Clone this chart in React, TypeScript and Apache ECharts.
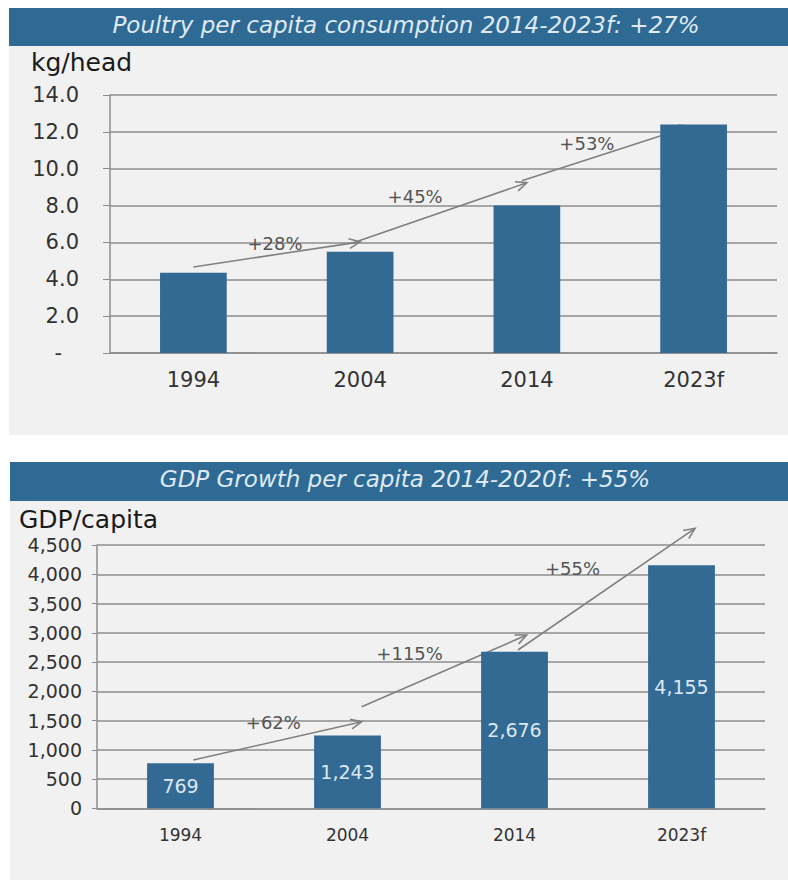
import React, { useEffect, useRef } from "react";
import * as echarts from "echarts";

// ---- Data ----
const categories = ["1994", "2004", "2014", "2023f"];
const poultryValues = [4.35, 5.5, 8.0, 12.4];
const gdpValues = [769, 1243, 2676, 4155];

const poultryTitle = "Poultry per capita consumption 2014-2023f: +27%";
const gdpTitle = "GDP Growth per capita 2014-2020f: +55%";
const poultryUnit = "kg/head";
const gdpUnit = "GDP/capita";

// growth arrows, in axis units (x: 0..4 across the categories, y: axis value)
const poultryArrowFrom = [[0.5, 4.67], [1.45, 5.95], [2.47, 9.35]];
const poultryArrowTo = [[1.5, 6.03], [2.5, 9.24], [3.48, 12.3]];
const poultryGrowthText = ["+28%", "+45%", "+53%"];
const poultryGrowthAt = [[0.99, 5.95], [1.83, 8.48], [2.86, 11.38]];

const gdpArrowFrom = [[0.577, 825], [1.585, 1736], [2.521, 2705]];
const gdpArrowTo = [[1.585, 1480], [2.573, 2961], [3.581, 4785]];
const gdpGrowthText = ["+62%", "+115%", "+55%"];
const gdpGrowthAt = [[1.056, 1463], [1.872, 2649], [2.847, 4101]];

const FONT = "DejaVu Sans";
const BAR = "#336a93";
const GRIDC = "#8c8c8c";
const TXT = "#333333";

function arrowSeries(from: number[][], to: number[][], xi: number, yi: number) {
  return {
    type: "custom",
    xAxisIndex: xi,
    yAxisIndex: yi,
    z: 1,
    clip: false,
    silent: true,
    data: from.map((f, i) => [f[0], f[1], to[i][0], to[i][1]]),
    renderItem: (params: any, api: any) => {
      const p1 = api.coord([api.value(0), api.value(1)]);
      const p2 = api.coord([api.value(2), api.value(3)]);
      const a = Math.atan2(p2[1] - p1[1], p2[0] - p1[0]);
      const L = 12;
      const s = 0.42;
      const w1 = [p2[0] - L * Math.cos(a - s), p2[1] - L * Math.sin(a - s)];
      const w2 = [p2[0] - L * Math.cos(a + s), p2[1] - L * Math.sin(a + s)];
      const st = { stroke: "#808080", lineWidth: 1.6, fill: null };
      return {
        type: "group",
        children: [
          { type: "line", shape: { x1: p1[0], y1: p1[1], x2: p2[0], y2: p2[1] }, style: st },
          { type: "polyline", shape: { points: [w1, p2, w2] }, style: st },
        ],
      };
    },
  };
}

function growthLabelSeries(at: number[][], texts: string[], xi: number, yi: number) {
  return {
    type: "custom",
    xAxisIndex: xi,
    yAxisIndex: yi,
    z: 4,
    clip: false,
    silent: true,
    data: at.map((p) => [p[0], p[1]]),
    renderItem: (params: any, api: any) => {
      const p = api.coord([api.value(0), api.value(1)]);
      return {
        type: "text",
        x: p[0],
        y: p[1],
        style: {
          text: texts[params.dataIndex],
          fill: "#555555",
          font: `18px "${FONT}"`,
          align: "center",
          verticalAlign: "middle",
          textAlign: "center",
          textVerticalAlign: "middle",
        },
      };
    },
  };
}

function textEl(text: string, x: number, y: number, size: number, color: string, align: string, italic = false) {
  return {
    type: "text",
    x,
    y,
    z: 5,
    style: {
      text,
      fill: color,
      font: `${italic ? "italic " : ""}${size}px "${FONT}"`,
      align,
      verticalAlign: "middle",
      textAlign: align,
      textVerticalAlign: "middle",
    },
  };
}

export default function App() {
  const ref = useRef<HTMLDivElement>(null);
  useEffect(() => {
    if (!ref.current) return;
    const chart = echarts.init(ref.current, null, { renderer: "svg" });
    const option: any = {
      animation: false,
      backgroundColor: "#ffffff",
      textStyle: { fontFamily: FONT },
      graphic: [
        { type: "rect", z: -10, shape: { x: 9, y: 8, width: 779, height: 427 }, style: { fill: "#f1f1f1" } },
        { type: "rect", z: -9, shape: { x: 9, y: 8, width: 779, height: 38 }, style: { fill: "#2f6a94" } },
        { type: "rect", z: -10, shape: { x: 10, y: 462, width: 778, height: 418 }, style: { fill: "#f1f1f1" } },
        { type: "rect", z: -9, shape: { x: 10, y: 462, width: 778, height: 39 }, style: { fill: "#2f6a94" } },
        textEl(poultryTitle, 406, 25, 23, "#dfeaf4", "center", true),
        textEl(gdpTitle, 405, 479, 23, "#dfeaf4", "center", true),
        textEl(poultryUnit, 31, 62, 25, "#1a1a1a", "left"),
        textEl(gdpUnit, 19, 519, 25, "#1a1a1a", "left"),
      ],
      grid: [
        { left: 110, right: 11, top: 95, height: 258, containLabel: false },
        { left: 97, right: 23, top: 545, height: 263.3, containLabel: false },
      ],
      xAxis: [
        {
          type: "category",
          gridIndex: 0,
          data: categories,
          axisLine: { lineStyle: { color: GRIDC, width: 1.5 } },
          axisTick: { length: 5, lineStyle: { color: GRIDC } },
          axisLabel: { color: TXT, fontSize: 21, margin: 16, fontFamily: FONT },
        },
        { type: "value", gridIndex: 0, min: 0, max: 4, show: false },
        {
          type: "category",
          gridIndex: 1,
          data: categories,
          axisLine: { lineStyle: { color: GRIDC, width: 1.5 } },
          axisTick: { length: 5, lineStyle: { color: GRIDC } },
          axisLabel: { color: TXT, fontSize: 17, margin: 18, fontFamily: FONT },
        },
        { type: "value", gridIndex: 1, min: 0, max: 4, show: false },
      ],
      yAxis: [
        {
          type: "value",
          gridIndex: 0,
          min: 0,
          max: 14,
          interval: 2,
          axisLine: { show: true, lineStyle: { color: GRIDC, width: 1.5 } },
          axisTick: { show: true, length: 7, lineStyle: { color: GRIDC } },
          splitLine: { lineStyle: { color: GRIDC, width: 1.5 } },
          axisLabel: {
            color: TXT,
            fontSize: 21,
            margin: 31,
            fontFamily: FONT,
            formatter: (v: number) => (v === 0 ? "{dash|-}" : v.toFixed(1)),
            rich: { dash: { color: TXT, fontSize: 21, fontFamily: FONT, padding: [0, 17, 0, 0] } },
          },
        },
        {
          type: "value",
          gridIndex: 1,
          min: 0,
          max: 4500,
          interval: 500,
          axisLine: { show: true, lineStyle: { color: GRIDC, width: 1.5 } },
          axisTick: { show: true, length: 5, lineStyle: { color: GRIDC } },
          splitLine: { lineStyle: { color: GRIDC, width: 1.5 } },
          axisLabel: {
            color: TXT,
            fontSize: 19,
            margin: 15,
            fontFamily: FONT,
            formatter: (v: number) => v.toLocaleString("en-US"),
          },
        },
      ],
      series: [
        arrowSeries(poultryArrowFrom, poultryArrowTo, 1, 0),
        {
          type: "bar",
          xAxisIndex: 0,
          yAxisIndex: 0,
          z: 3,
          barWidth: "40%",
          data: poultryValues,
          itemStyle: { color: BAR },
        },
        growthLabelSeries(poultryGrowthAt, poultryGrowthText, 1, 0),
        arrowSeries(gdpArrowFrom, gdpArrowTo, 3, 1),
        {
          type: "bar",
          xAxisIndex: 2,
          yAxisIndex: 1,
          z: 3,
          barWidth: "40%",
          data: gdpValues,
          itemStyle: { color: BAR },
          label: {
            show: true,
            position: "inside",
            color: "#dce8f3",
            fontSize: 19,
            fontFamily: FONT,
            formatter: (p: any) => Number(p.value).toLocaleString("en-US"),
          },
        },
        growthLabelSeries(gdpGrowthAt, gdpGrowthText, 3, 1),
      ],
    };
    chart.setOption(option);
    return () => chart.dispose();
  }, []);
  return (
    <div
      ref={ref}
      style={{ position: "absolute", left: 0, top: 0, width: 788, height: 883 }}
    />
  );
}
